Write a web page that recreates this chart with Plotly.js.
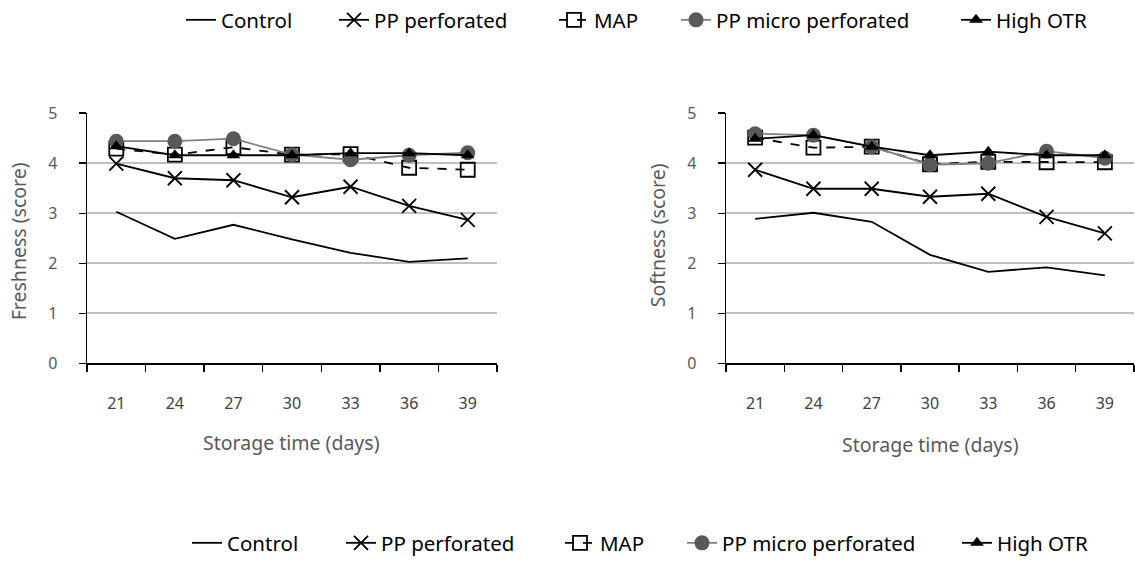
<!DOCTYPE html>
<html>
<head>
<meta charset="utf-8">
<script src="https://cdn.plot.ly/plotly-3.0.1.min.js"></script>
<style>html,body{margin:0;padding:0;background:#fff;}#chart{width:1135px;height:563px;}</style>
</head>
<body>
<div id="chart"></div>
<script>
const days = ["21", "24", "27", "30", "33", "36", "39"];
const seriesNames = ["Control", "PP perforated", "MAP", "PP micro perforated", "High OTR"];

// Freshness (left panel)
const freshControl = [3.03, 2.49, 2.77, 2.48, 2.21, 2.03, 2.10];
const freshPPPerf = [3.99, 3.70, 3.66, 3.32, 3.53, 3.15, 2.87];
const freshMAP = [4.29, 4.17, 4.32, 4.17, 4.18, 3.91, 3.87];
const freshMicro = [4.44, 4.44, 4.49, 4.17, 4.07, 4.16, 4.21];
const freshOTR = [4.34, 4.16, 4.16, 4.16, 4.20, 4.20, 4.16];

// Softness (right panel)
const softControl = [2.89, 3.01, 2.83, 2.17, 1.83, 1.92, 1.76];
const softPPPerf = [3.87, 3.49, 3.49, 3.33, 3.39, 2.93, 2.60];
const softMAP = [4.51, 4.31, 4.33, 3.98, 4.03, 4.02, 4.02];
const softMicro = [4.59, 4.56, 4.33, 3.97, 4.00, 4.24, 4.10];
const softOTR = [4.49, 4.56, 4.33, 4.16, 4.23, 4.16, 4.16];

// legend text start positions (px) for top and bottom legend rows
const topLegendTextX = [222, 375, 595, 717, 997];
const bottomLegendTextX = [228, 382, 601, 723, 998];

const FONT = "Noto Sans";
const styles = [
  {line: {color: "#000", width: 1.8}, mode: "lines"},
  {line: {color: "#000", width: 1.8}, mode: "lines+markers", marker: {symbol: "x-thin-open", size: 14, color: "#000", line: {color: "#000", width: 1.8}}},
  {line: {color: "#000", width: 1.8, dash: "dash"}, mode: "lines+markers", marker: {symbol: "square-open", size: 14, color: "#000", line: {color: "#000", width: 1.8}}},
  {line: {color: "#808080", width: 1.8}, mode: "lines+markers", marker: {symbol: "circle", size: 15, color: "#595959", line: {color: "#595959", width: 0}}},
  {line: {color: "#000", width: 1.8}, mode: "lines+markers", marker: {symbol: "triangle-up", size: 12, color: "#000"}}
];

function makeTraces(values, xa, ya, legendStart) {
  return values.map((v, i) => Object.assign({
    type: "scatter", x: days, y: v, name: seriesNames[i], xaxis: xa, yaxis: ya,
    legend: "legend" + (legendStart + i === 1 ? "" : legendStart + i), cliponaxis: false
  }, JSON.parse(JSON.stringify(styles[i]))));
}

const data = [].concat(
  makeTraces([freshControl, freshPPPerf, freshMAP, freshMicro, freshOTR], "x", "y", 1),
  makeTraces([softControl, softPPPerf, softMAP, softMicro, softOTR], "x2", "y2", 6)
);

const W = 1135, H = 563;
function xaxisDef(domain) {
  return {
    domain: domain, type: "category", range: [-0.5, 6.5],
    showline: true, linecolor: "#000", linewidth: 1.5,
    ticks: "outside", tickson: "boundaries", ticklen: 7, tickcolor: "#000", tickwidth: 1.5,
    showgrid: false, zeroline: false, fixedrange: true,
    tickfont: {family: FONT, size: 16, color: "#404040"}, ticklabelstandoff: 25
  };
}
function yaxisDef(anchor) {
  return {
    domain: [197 / H, 449 / H], range: [0, 5], dtick: 1, anchor: anchor,
    showline: true, linecolor: "#000", linewidth: 1.5,
    ticks: "outside", ticklen: 7, tickcolor: "#000", tickwidth: 1.5,
    showgrid: true, gridcolor: "#bfbfbf", gridwidth: 2, zeroline: false, fixedrange: true,
    tickfont: {family: FONT, size: 16, color: "#595959"}, ticklabelstandoff: 18
  };
}
function legendDef(textX, yPx) {
  return {
    orientation: "h", xanchor: "left", yanchor: "middle",
    x: (textX - 41) / W, y: (H - yPx) / H,
    font: {family: FONT, size: 20.5, color: "#000"}, bgcolor: "rgba(0,0,0,0)",
    itemclick: false
  };
}

const layout = {
  width: W, height: H, margin: {l: 0, r: 0, t: 0, b: 0},
  paper_bgcolor: "#fff", plot_bgcolor: "#fff",
  showlegend: true,
  xaxis: Object.assign(xaxisDef([87 / W, 497 / W]), {anchor: "y"}),
  yaxis: yaxisDef("x"),
  xaxis2: Object.assign(xaxisDef([726 / W, 1134 / W]), {anchor: "y2"}),
  yaxis2: yaxisDef("x2"),
  annotations: [
    {text: "Freshness (score)", xref: "paper", yref: "paper", x: 18 / W, y: (H - 243) / H, xanchor: "center", yanchor: "middle", textangle: -90, showarrow: false, font: {family: FONT, size: 19.5, color: "#595959"}},
    {text: "Storage time (days)", xref: "paper", yref: "paper", x: 291 / W, y: (H - 446) / H, xanchor: "center", yanchor: "middle", showarrow: false, font: {family: FONT, size: 19.5, color: "#595959"}},
    {text: "Softness (score)", xref: "paper", yref: "paper", x: 657 / W, y: (H - 237) / H, xanchor: "center", yanchor: "middle", textangle: -90, showarrow: false, font: {family: FONT, size: 19.5, color: "#595959"}},
    {text: "Storage time (days)", xref: "paper", yref: "paper", x: 930 / W, y: (H - 448) / H, xanchor: "center", yanchor: "middle", showarrow: false, font: {family: FONT, size: 19.5, color: "#595959"}}
  ]
};
for (let i = 0; i < 5; i++) {
  layout["legend" + (i === 0 ? "" : i + 1)] = legendDef(topLegendTextX[i], 20);
  layout["legend" + (i + 6)] = legendDef(bottomLegendTextX[i], 547);
}

Plotly.newPlot("chart", data, layout, {displayModeBar: false, staticPlot: true});
</script>
</body>
</html>
